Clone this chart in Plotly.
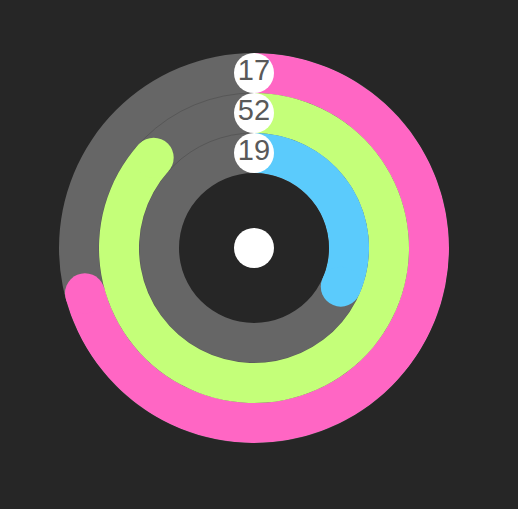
import plotly.graph_objects as go

# Clock rings: outer = hours (of 24), middle = minutes (of 60), inner = seconds (of 60)
labels = ["17", "52", "19"]
values = [17, 52, 19]
maxima = [24, 60, 60]
colors = ["#ff66c4", "#c4ff79", "#5bcbfc"]

n = len(values)
fig = go.Figure()

# ring arcs
for i, (v, m, c) in enumerate(zip(values, maxima, colors)):
    ang = v / m * 360.0
    base = n - 1 - i
    fig.add_trace(go.Barpolar(
        r=[1], base=[base], theta=[ang / 2], width=[ang],
        marker=dict(color=c, line=dict(width=0)),
        hoverinfo="skip", subplot="polar",
    ))

# round caps at the ends
for i, (v, m, c) in enumerate(zip(values, maxima, colors)):
    ang = v / m * 360.0
    base = n - 1 - i
    fig.add_trace(go.Scatterpolar(
        r=[base + 0.5], theta=[ang], mode="markers",
        marker=dict(size=40, color=c, line=dict(width=0)),
        cliponaxis=False, hoverinfo="skip", subplot="polar",
    ))

# value labels at the start of each ring
fig.add_trace(go.Scatterpolar(
    r=[n - 1 - i + 0.5 for i in range(n)], theta=[0] * n,
    mode="markers+text", text=labels, textposition="middle center",
    textfont=dict(size=29, color="#595959", family="Liberation Sans, Arial, sans-serif"),
    marker=dict(size=40, color="#ffffff", line=dict(width=0)),
    cliponaxis=False, hoverinfo="skip", subplot="polar",
))

# centre dot
fig.add_trace(go.Scatterpolar(
    r=[0], theta=[0], mode="markers",
    marker=dict(size=40, color="#ffffff", line=dict(width=0)),
    cliponaxis=False, hoverinfo="skip", subplot="polar2",
))

W, H = 518, 509
dom_x = [59 / W, 449 / W]
dom_y = [1 - 443 / H, 1 - 53 / H]

fig.update_layout(
    width=W, height=H,
    margin=dict(l=0, r=0, t=0, b=0),
    paper_bgcolor="#262626",
    plot_bgcolor="#262626",
    showlegend=False,
    polar=dict(
        domain=dict(x=dom_x, y=dom_y),
        hole=75 / 195,
        bgcolor="#666666",
        barmode="overlay",
        radialaxis=dict(range=[0, 3], tickvals=[1, 2], showgrid=True,
                        gridcolor="#575757", gridwidth=1,
                        showticklabels=False, ticks="", showline=False),
        angularaxis=dict(rotation=90, direction="clockwise", showgrid=False,
                         showline=False, showticklabels=False, ticks=""),
    ),
    polar2=dict(
        domain=dict(x=dom_x, y=dom_y),
        bgcolor="rgba(0,0,0,0)",
        radialaxis=dict(range=[0, 1], visible=False, showgrid=False),
        angularaxis=dict(visible=False, showgrid=False, showline=False,
                         showticklabels=False, ticks=""),
    ),
)

fig.write_html(
    "out.html",
    config={"displayModeBar": False, "staticPlot": True},
    post_script="document.body.style.margin='0';document.body.style.background='#262626';document.body.style.overflow='hidden';",
)
